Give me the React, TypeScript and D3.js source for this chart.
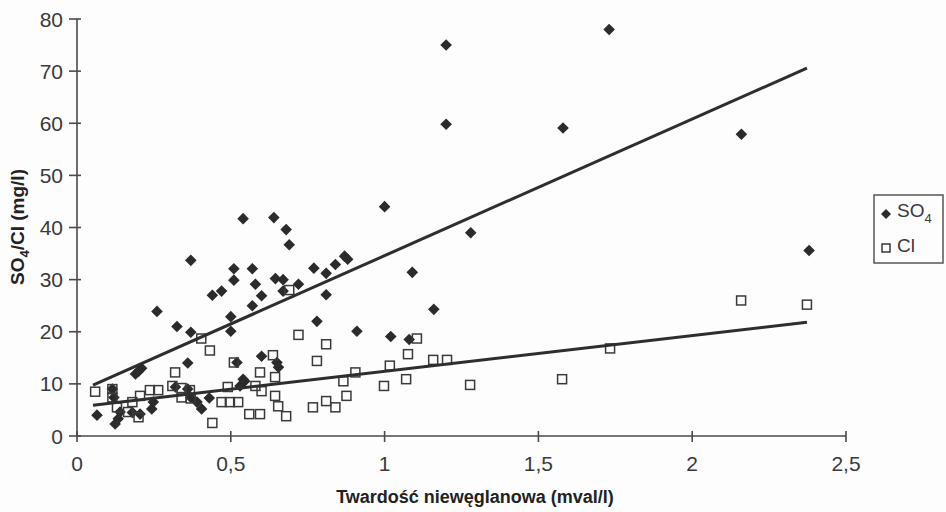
import React, { useEffect, useRef } from "react";
import * as d3 from "d3";

// Twardość niewęglanowa (mval/l) vs SO4 (mg/l)
const so4Points: [number, number][] = [
  [1.2, 75.0], [1.73, 78.0], [1.2, 59.8], [1.58, 59.1], [2.16, 57.9], [2.38, 35.6],
  [1.0, 44.0], [1.28, 39.0], [1.09, 31.4], [1.16, 24.3], [0.91, 20.1], [1.02, 19.1],
  [1.08, 18.5], [0.78, 22.0], [0.77, 32.2], [0.81, 31.2], [0.84, 32.9], [0.87, 34.5],
  [0.88, 33.9], [0.81, 27.1], [0.72, 29.1], [0.54, 41.7], [0.64, 41.9], [0.68, 39.6],
  [0.69, 36.7], [0.57, 32.1], [0.58, 29.1], [0.645, 30.2], [0.67, 30.0], [0.67, 27.8],
  [0.6, 26.9], [0.37, 33.7], [0.51, 32.1], [0.51, 29.9], [0.47, 27.8], [0.44, 27.0],
  [0.26, 23.9], [0.325, 21.0], [0.37, 19.9], [0.36, 14.0], [0.5, 22.9], [0.5, 20.1],
  [0.57, 25.0], [0.21, 13.0], [0.19, 11.9], [0.52, 14.1], [0.6, 15.3], [0.65, 14.1],
  [0.655, 13.2], [0.545, 10.5], [0.53, 9.6], [0.065, 4.0], [0.12, 7.4], [0.124, 2.3],
  [0.134, 3.3], [0.14, 4.6], [0.18, 4.5], [0.205, 4.2], [0.243, 5.2], [0.248, 6.5],
  [0.36, 9.0], [0.37, 7.4], [0.39, 6.5], [0.405, 5.2], [0.43, 7.3], [0.115, 9.0],
  [0.32, 9.4], [0.54, 10.9], [0.2, 12.4],
];

// Twardość niewęglanowa (mval/l) vs Cl (mg/l)
const clPoints: [number, number][] = [
  [0.059, 8.5], [0.115, 9.0], [0.115, 7.4], [0.13, 5.5], [0.166, 4.6], [0.18, 6.5],
  [0.205, 7.7], [0.2, 3.6], [0.237, 8.8], [0.264, 8.8], [0.319, 12.2], [0.31, 9.6],
  [0.34, 9.2], [0.367, 8.8], [0.34, 7.4], [0.37, 7.2], [0.404, 18.7], [0.432, 16.4],
  [0.44, 2.5], [0.47, 6.5], [0.49, 9.4], [0.497, 6.5], [0.51, 14.1], [0.524, 6.5],
  [0.56, 4.2], [0.595, 4.2], [0.595, 12.2], [0.58, 9.6], [0.6, 8.6], [0.637, 15.5],
  [0.644, 11.3], [0.644, 7.7], [0.654, 5.7], [0.68, 3.8], [0.72, 19.4], [0.78, 14.4],
  [0.81, 17.6], [0.767, 5.5], [0.81, 6.7], [0.84, 5.5], [0.876, 7.7], [0.866, 10.5],
  [0.905, 12.2], [0.998, 9.6], [1.017, 13.5], [1.07, 10.9], [1.076, 15.7], [1.105, 18.7],
  [1.158, 14.6], [1.203, 14.6], [1.278, 9.8], [1.577, 10.9], [1.733, 16.8], [2.159, 26.0],
  [2.373, 25.2], [0.69, 28.0],
];

// linear trendlines (slope, intercept) and the x range they cover
const so4Trend = { slope: 26.2, intercept: 8.4 };
const clTrend = { slope: 6.85, intercept: 5.55 };
const trendRange = [0.052, 2.373];

const xTicks = [0, 0.5, 1, 1.5, 2, 2.5];
const yTicks = [0, 10, 20, 30, 40, 50, 60, 70, 80];

const W = 946;
const H = 512;

const fmt = (v: number) => String(v).replace(".", ",");

const App = () => {
  const svgRef = useRef<SVGSVGElement>(null);

  useEffect(() => {
    const svg = d3.select(svgRef.current);
    svg.selectAll("*").remove();

    const x = d3.scaleLinear().domain([0, 2.5]).range([77, 846]);
    const y = d3.scaleLinear().domain([0, 80]).range([436, 19]);

    const axisColor = "#4a4a4a";
    const textColor = "#3a3a3a";
    const font = "'Liberation Sans', Arial, sans-serif";

    svg.append("rect").attr("width", W).attr("height", H).attr("fill", "#fdfdfd");

    // axes
    const ax = svg.append("g").attr("stroke", axisColor).attr("stroke-width", 1.6);
    ax.append("line").attr("x1", x(0)).attr("x2", x(0)).attr("y1", y(80)).attr("y2", y(0));
    ax.append("line").attr("x1", x(0)).attr("x2", x(2.5)).attr("y1", y(0)).attr("y2", y(0));
    ax.selectAll(".yt").data(yTicks).enter().append("line")
      .attr("x1", x(0) - 8).attr("x2", x(0) + 4)
      .attr("y1", d => y(d)).attr("y2", d => y(d));
    ax.selectAll(".xt").data(xTicks).enter().append("line")
      .attr("x1", d => x(d)).attr("x2", d => x(d))
      .attr("y1", y(0) - 5).attr("y2", y(0) + 6);

    svg.selectAll(".yl").data(yTicks).enter().append("text")
      .attr("x", x(0) - 14).attr("y", d => y(d)).attr("dy", "0.36em")
      .attr("text-anchor", "end").attr("font-family", font).attr("font-size", 21)
      .attr("fill", textColor).text(d => d);

    svg.selectAll(".xl").data(xTicks).enter().append("text")
      .attr("x", d => x(d)).attr("y", y(0) + 35)
      .attr("text-anchor", "middle").attr("font-family", font).attr("font-size", 21)
      .attr("fill", textColor).text(d => fmt(d));

    // axis titles
    svg.append("text")
      .attr("x", 475).attr("y", 503).attr("text-anchor", "middle")
      .attr("font-family", font).attr("font-size", 18).attr("font-weight", "bold")
      .attr("fill", "#222").text("Twardość niewęglanowa (mval/l)");

    const yt = svg.append("text")
      .attr("transform", "translate(24,227) rotate(-90)").attr("text-anchor", "middle")
      .attr("font-family", font).attr("font-size", 19).attr("font-weight", "bold")
      .attr("fill", "#222");
    yt.append("tspan").text("SO");
    yt.append("tspan").attr("font-size", 13).attr("dy", 5).text("4");
    yt.append("tspan").attr("dy", -5).text("/Cl (mg/l)");

    const diamond = (r: number) => `M0,${-r}L${r},0L0,${r}L${-r},0Z`;

    // SO4 markers
    svg.append("g").selectAll("path").data(so4Points).enter().append("path")
      .attr("d", diamond(5.8))
      .attr("transform", d => `translate(${x(d[0])},${y(d[1])})`)
      .attr("fill", "#2b2b2b");

    // Cl markers
    svg.append("g").selectAll("rect").data(clPoints).enter().append("rect")
      .attr("x", d => x(d[0]) - 4.5).attr("y", d => y(d[1]) - 4.5)
      .attr("width", 9).attr("height", 9)
      .attr("fill", "none").attr("stroke", "#3a3a3a").attr("stroke-width", 1.5);

    // trendlines
    const line = d3.line<number>().x(d => x(d));
    [so4Trend, clTrend].forEach(t => {
      svg.append("path")
        .datum(trendRange)
        .attr("d", line.y(d => y(t.slope * d + t.intercept)))
        .attr("fill", "none").attr("stroke", "#2e2e2e").attr("stroke-width", 3);
    });

    // legend
    const lg = svg.append("g").attr("transform", "translate(874,195)");
    lg.append("rect").attr("width", 69).attr("height", 68)
      .attr("fill", "#fdfdfd").attr("stroke", "#555").attr("stroke-width", 1.5);
    lg.append("path").attr("d", diamond(5)).attr("transform", "translate(12,19)").attr("fill", "#2b2b2b");
    lg.append("rect").attr("x", 8).attr("y", 49).attr("width", 8).attr("height", 8)
      .attr("fill", "none").attr("stroke", "#3a3a3a").attr("stroke-width", 1.5);
    const lt = lg.append("text").attr("x", 23).attr("y", 22)
      .attr("font-family", font).attr("font-size", 19).attr("fill", textColor);
    lt.append("tspan").text("SO");
    lt.append("tspan").attr("font-size", 13).attr("dy", 6).text("4");
    lg.append("text").attr("x", 23).attr("y", 57)
      .attr("font-family", font).attr("font-size", 19).attr("fill", textColor).text("Cl");
  }, []);

  return (
    <div style={{ position: "absolute", left: 0, top: 0 }}>
      <svg ref={svgRef} width={W} height={H}></svg>
    </div>
  );
};

export default App;
